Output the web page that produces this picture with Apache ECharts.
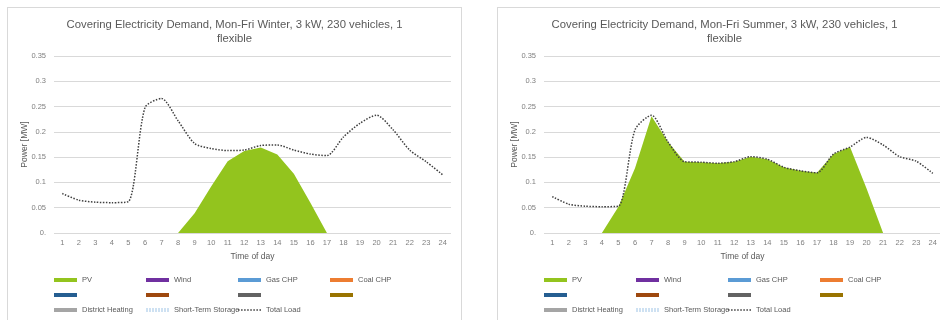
<!DOCTYPE html>
<html>
<head>
<meta charset="utf-8">
<script src="https://cdn.jsdelivr.net/npm/echarts@6/dist/echarts.min.js"></script>
<style>
  html, body { margin: 0; padding: 0; background: #fff; overflow: hidden; width: 940px; height: 320px; }
  .box { position: absolute; top: 7px; width: 455px; height: 330px; border: 1px solid #d9d9d9; box-sizing: border-box; }
  #winter { left: 7px; }
  #summer { left: 497px; }
</style>
</head>
<body>
<div id="winter" class="box"></div>
<div id="summer" class="box"></div>
<script>
const hours = ["1","2","3","4","5","6","7","8","9","10","11","12","13","14","15","16","17","18","19","20","21","22","23","24"];
const yTickLabels = ["0.", "0.05", "0.1", "0.15", "0.2", "0.25", "0.3", "0.35"];

const winterTitle = "Covering Electricity Demand, Mon-Fri Winter, 3 kW, 230 vehicles, 1\nflexible";
const summerTitle = "Covering Electricity Demand, Mon-Fri Summer, 3 kW, 230 vehicles, 1\nflexible";

// PV generation [MW]
const winterPV = [0, 0, 0, 0, 0, 0, 0, 0, 0.039, 0.092, 0.142, 0.162, 0.169, 0.155, 0.117, 0.06, 0, 0, 0, 0, 0, 0, 0, 0];
const summerPV = [0, 0, 0, 0, 0.052, 0.128, 0.231, 0.18, 0.141, 0.14, 0.138, 0.141, 0.151, 0.146, 0.13, 0.123, 0.119, 0.156, 0.17, 0.088, 0, 0, 0, 0];

// Total load [MW]
const winterLoad = [0.078, 0.065, 0.061, 0.06, 0.062, 0.248, 0.266, 0.222, 0.177, 0.167, 0.163, 0.164, 0.173, 0.174, 0.164, 0.156, 0.153, 0.19, 0.217, 0.233, 0.204, 0.164, 0.141, 0.115];
const summerLoad = [0.072, 0.057, 0.053, 0.052, 0.053, 0.204, 0.233, 0.18, 0.141, 0.14, 0.138, 0.141, 0.151, 0.146, 0.13, 0.123, 0.119, 0.156, 0.17, 0.189, 0.174, 0.151, 0.142, 0.118];

// sources without any contribution in these scenarios
const zeroRow = [0, 0, 0, 0, 0, 0, 0, 0, 0, 0, 0, 0, 0, 0, 0, 0, 0, 0, 0, 0, 0, 0, 0, 0];

const otherSources = [
  { name: "Wind", color: "#7030a0" },
  { name: "Gas CHP", color: "#5b9bd5" },
  { name: "Coal CHP", color: "#ed7d31" },
  { name: "s5", color: "#255e91" },
  { name: "s6", color: "#9e480e" },
  { name: "s7", color: "#636363" },
  { name: "s8", color: "#997300" },
  { name: "District Heating", color: "#a5a5a5" },
  { name: "Short-Term Storage", color: "#9dc3e6" }
];
// legend columns, as Excel lays them out (unnamed series show no text)
const legendCols = [
  ["PV", "s5", "District Heating"],
  ["Wind", "s6", "Short-Term Storage"],
  ["Gas CHP", "s7", "Total Load"],
  ["Coal CHP", "s8"]
];
const blankNames = ["s5", "s6", "s7", "s8"];

const FONT = "Liberation Sans";
const TXT = "#595959";

const dotsIcon = "path://M0,0h1.5v1.5h-1.5z M3,0h1.5v1.5h-1.5z M6,0h1.5v1.5h-1.5z M9,0h1.5v1.5h-1.5z M12,0h1.5v1.5h-1.5z M15,0h1.5v1.5h-1.5z M18,0h1.5v1.5h-1.5z M21,0h1.5v1.5h-1.5z";
const stripesIcon = "path://M0,0h1v4h-1z M3,0h1v4h-1z M6,0h1v4h-1z M9,0h1v4h-1z M12,0h1v4h-1z M15,0h1v4h-1z M18,0h1v4h-1z M21,0h1v4h-1z";

function legendCol(left, names) {
  return {
    orient: "vertical",
    top: 267,
    left: left,
    padding: 0,
    itemWidth: 23,
    itemHeight: 4,
    itemGap: 5,
    icon: "rect",
    selectedMode: false,
    data: names.map((n) => {
      if (n === "Total Load") return { name: n, icon: dotsIcon };
      if (n === "Short-Term Storage") return { name: n, icon: stripesIcon };
      return n;
    }),
    formatter: (name) => (blankNames.includes(name) ? " " : name),
    textStyle: { color: TXT, fontFamily: FONT, fontSize: 7.5, lineHeight: 10 }
  };
}

function buildOption(titleText, pv, load, gridLeft) {
  const series = [
    {
      name: "PV",
      type: "line",
      data: pv,
      color: "#93c41e",
      showSymbol: false,
      lineStyle: { width: 0 },
      areaStyle: { color: "#93c41e", opacity: 1 },
      z: 2
    }
  ];
  otherSources.forEach((s) => {
    series.push({
      name: s.name,
      type: "line",
      data: zeroRow,
      color: s.color,
      showSymbol: false,
      lineStyle: { width: 0 },
      z: 1
    });
  });
  series.push({
    name: "Total Load",
    type: "line",
    data: load,
    color: "#404040",
    smooth: 0.25,
    showSymbol: false,
    lineStyle: { width: 1.5, type: "dotted", color: "#404040" },
    z: 3
  });

  return {
    animation: false,
    title: {
      text: titleText,
      left: "center",
      top: 5,
      textStyle: { fontFamily: FONT, fontSize: 11.3, fontWeight: "normal", color: TXT, lineHeight: 14 }
    },
    grid: { left: gridLeft, top: 48, width: 397, height: 177, outerBoundsMode: "none" },
    xAxis: {
      type: "category",
      data: hours,
      boundaryGap: true,
      name: "Time of day",
      nameLocation: "middle",
      nameGap: 19,
      nameTextStyle: { fontFamily: FONT, fontSize: 8.5, color: TXT },
      axisLine: { show: false },
      axisTick: { show: false },
      axisLabel: { fontFamily: FONT, fontSize: 7.5, color: "#7f7f7f", margin: 6, interval: 0 }
    },
    yAxis: {
      type: "value",
      min: 0,
      max: 0.35,
      interval: 0.05,
      name: "Power [MW]",
      nameLocation: "middle",
      nameGap: 25,
      nameMoveOverlap: false,
      nameTextStyle: { fontFamily: FONT, fontSize: 8.5, color: TXT },
      axisLine: { show: false },
      axisTick: { show: false },
      axisLabel: {
        fontFamily: FONT, fontSize: 7.5, color: "#7f7f7f", margin: 8,
        formatter: (v) => yTickLabels[Math.round(v / 0.05)]
      },
      splitLine: { lineStyle: { color: "#d9d9d9", width: 1 } }
    },
    legend: legendCols.map((names, i) => legendCol(gridLeft + i * 92, names)),
    series: series
  };
}

const winterChart = echarts.init(document.getElementById("winter"));
winterChart.setOption(buildOption(winterTitle, winterPV, winterLoad, 46));
const summerChart = echarts.init(document.getElementById("summer"));
summerChart.setOption(buildOption(summerTitle, summerPV, summerLoad, 46));
</script>
</body>
</html>
